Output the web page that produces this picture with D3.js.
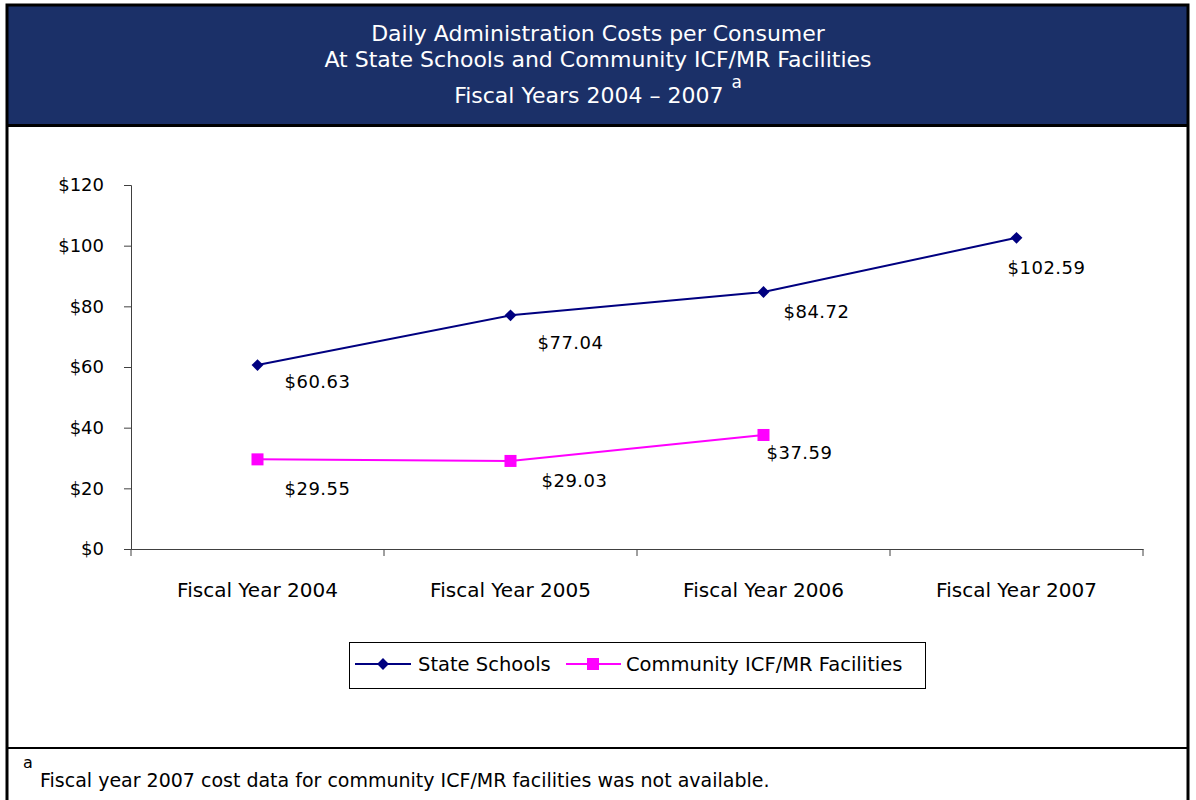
<!DOCTYPE html>
<html lang="en">
<head>
<meta charset="utf-8">
<script src="https://d3js.org/d3.v7.min.js"></script>
<style>
  body { margin: 0; background: #fff; }
  text { font-family: "DejaVu Sans", Verdana, sans-serif; }
</style>
</head>
<body>
<div id="my_dataviz"></div>
<script>

// chart data
var years = ["Fiscal Year 2004", "Fiscal Year 2005", "Fiscal Year 2006", "Fiscal Year 2007"];
var stateSchools = [60.63, 77.04, 84.72, 102.59];
var communityICF = [29.55, 29.03, 37.59, null];   // 2007 not available
var yTicks = [0, 20, 40, 60, 80, 100, 120];
var titleLines = ["Daily Administration Costs per Consumer",
                  "At State Schools and Community ICF/MR Facilities",
                  "Fiscal Years 2004 \u2013 2007"];
var footnote = "Fiscal year 2007 cost data for community ICF/MR facilities was not available.";

// hand placed label nudges, like in the original
var stateNudge = [[60, 16], [60, 27], [53, 19], [30, 29]];
var commNudge = [[60, 29], [64, 19], [36, 17]];

var W = 1196, H = 800;
var svg = d3.select("#my_dataviz")
  .append("svg")
  .attr("width", W)
  .attr("height", H);

svg.append("rect").attr("width", W).attr("height", H).attr("fill", "#fff");

// header
svg.append("rect")
  .attr("x", 7).attr("y", 5).attr("width", 1181).attr("height", 120)
  .attr("fill", "#1b3068");

var titles = svg.selectAll(".title")
  .data(titleLines)
  .enter()
  .append("text")
  .attr("x", 598)
  .attr("y", function(d, i) { return [41, 67, 103][i]; })
  .attr("text-anchor", "middle")
  .attr("fill", "#fff")
  .style("font-size", "22px")
  .text(function(d) { return d; });

// superscript on last title line
titles.filter(function(d, i) { return i == 2; })
  .append("tspan")
  .attr("dx", 8).attr("dy", -15)
  .style("font-size", "17px")
  .text("a");

// frame lines
svg.append("rect")
  .attr("x", 7).attr("y", 5).attr("width", 1181).attr("height", 820)
  .attr("fill", "none").attr("stroke", "#000").attr("stroke-width", 3);
svg.append("line").attr("x1", 7).attr("x2", 1188).attr("y1", 125.5).attr("y2", 125.5)
  .attr("stroke", "#000").attr("stroke-width", 3);
svg.append("line").attr("x1", 7).attr("x2", 1188).attr("y1", 748).attr("y2", 748)
  .attr("stroke", "#000").attr("stroke-width", 2);

// scales
var x = d3.scaleBand().domain(years).range([131, 1143]);
var y = d3.scaleLinear().domain([0, 120]).range([549, 185]);
var cx = function(d, i) { return x(years[i]) + x.bandwidth() / 2; };

// y axis
var yAxis = svg.append("g")
  .attr("transform", "translate(131,0)")
  .call(d3.axisLeft(y).tickValues(yTicks).tickSize(7).tickPadding(20)
    .tickFormat(function(d) { return "$" + d; }));
yAxis.select(".domain").attr("stroke", "#404040");
yAxis.selectAll(".tick line").attr("stroke", "#404040");
yAxis.selectAll("text").style("font-size", "18px").attr("fill", "#000")
  .style("font-family", "'DejaVu Sans', sans-serif");

// x axis with ticks between categories
var xAxis = svg.append("g")
  .attr("transform", "translate(0,549)")
  .call(d3.axisBottom(x).tickSize(0).tickPadding(34));
xAxis.select(".domain").attr("stroke", "#404040");
xAxis.selectAll("text").style("font-size", "20px").attr("fill", "#000")
  .style("font-family", "'DejaVu Sans', sans-serif");
xAxis.selectAll(".sep")
  .data(d3.range(years.length + 1))
  .enter()
  .append("line")
  .attr("x1", function(i) { return 131 + i * x.bandwidth(); })
  .attr("x2", function(i) { return 131 + i * x.bandwidth(); })
  .attr("y1", 0).attr("y2", 7)
  .attr("stroke", "#404040");

// lines
var line = d3.line()
  .defined(function(d) { return d != null; })
  .x(cx)
  .y(function(d) { return y(d); });

svg.append("path").datum(stateSchools)
  .attr("d", line).attr("fill", "none")
  .attr("stroke", "#000080").attr("stroke-width", 2);
svg.append("path").datum(communityICF)
  .attr("d", line).attr("fill", "none")
  .attr("stroke", "#ff00ff").attr("stroke-width", 2);

// markers
var diamond = d3.symbol().type(d3.symbolSquare).size(70);
svg.selectAll(".stateMark")
  .data(stateSchools)
  .enter()
  .append("path")
  .attr("d", diamond)
  .attr("transform", function(d, i) { return "translate(" + cx(d, i) + "," + y(d) + ") rotate(45)"; })
  .attr("fill", "#000080");

var commData = communityICF.filter(function(d) { return d != null; });
svg.selectAll(".commMark")
  .data(commData)
  .enter()
  .append("rect")
  .attr("x", function(d, i) { return cx(d, i) - 6; })
  .attr("y", function(d) { return y(d) - 6; })
  .attr("width", 12).attr("height", 12)
  .attr("fill", "#ff00ff");

// value labels
svg.selectAll(".stateLbl")
  .data(stateSchools)
  .enter()
  .append("text")
  .attr("x", function(d, i) { return cx(d, i) + stateNudge[i][0]; })
  .attr("y", function(d, i) { return y(d) + stateNudge[i][1] + 7; })
  .attr("text-anchor", "middle")
  .style("font-size", "18px")
  .style("letter-spacing", "0.5px")
  .text(function(d) { return "$" + d.toFixed(2); });

svg.selectAll(".commLbl")
  .data(commData)
  .enter()
  .append("text")
  .attr("x", function(d, i) { return cx(d, i) + commNudge[i][0]; })
  .attr("y", function(d, i) { return y(d) + commNudge[i][1] + 7; })
  .attr("text-anchor", "middle")
  .style("font-size", "18px")
  .style("letter-spacing", "0.5px")
  .text(function(d) { return "$" + d.toFixed(2); });

// legend
var legend = svg.append("g").attr("transform", "translate(349,642)");
legend.append("rect").attr("x", 0.5).attr("y", 0.5).attr("width", 576).attr("height", 46)
  .attr("fill", "#fff").attr("stroke", "#000").attr("stroke-width", 1);

legend.append("line").attr("x1", 6).attr("x2", 62).attr("y1", 22).attr("y2", 22)
  .attr("stroke", "#000080").attr("stroke-width", 2);
legend.append("path").attr("d", diamond)
  .attr("transform", "translate(34,22) rotate(45)").attr("fill", "#000080");
legend.append("text").attr("x", 69).attr("y", 29).style("font-size", "19.5px")
  .text("State Schools");

legend.append("line").attr("x1", 217).attr("x2", 272).attr("y1", 22).attr("y2", 22)
  .attr("stroke", "#ff00ff").attr("stroke-width", 2);
legend.append("rect").attr("x", 238).attr("y", 16).attr("width", 12).attr("height", 12)
  .attr("fill", "#ff00ff");
legend.append("text").attr("x", 277).attr("y", 29).style("font-size", "19.5px")
  .text("Community ICF/MR Facilities");

// footnote
svg.append("text").attr("x", 23).attr("y", 768).style("font-size", "16px").text("a");
svg.append("text").attr("x", 40).attr("y", 787).style("font-size", "19px").text(footnote);

</script>
</body>
</html>
